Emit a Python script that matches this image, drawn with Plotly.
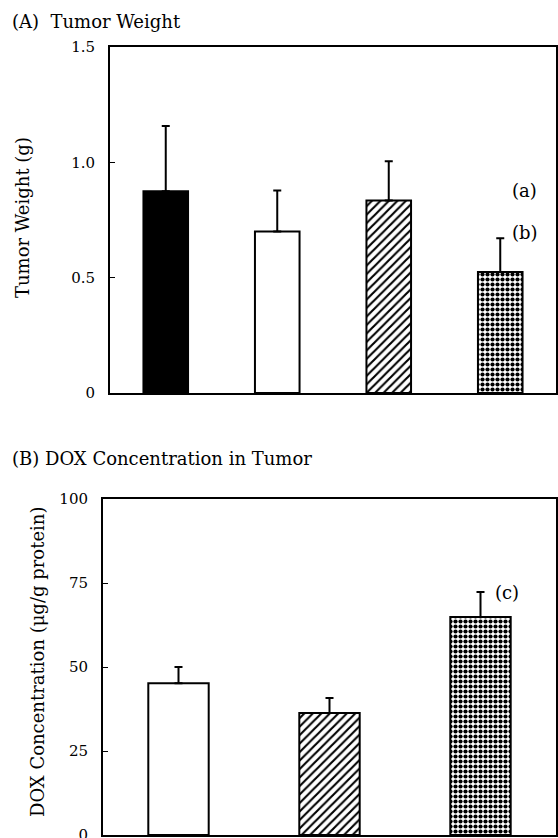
import plotly.graph_objects as go

W, H = 558, 838

# ---- data ----
groups_a = ["G1", "G2", "G3", "G4"]
tumor_weight = [0.875, 0.70, 0.835, 0.525]
tumor_weight_err = [0.283, 0.178, 0.17, 0.146]

groups_b = ["G2", "G3", "G4"]
dox_conc = [45.2, 36.3, 64.9]
dox_conc_err = [4.8, 4.5, 7.4]

ticks_a = [0, 0.5, 1.0, 1.5]
ticklabels_a = ["0", "0.5", "1.0", "1.5"]
ticks_b = [0, 25, 50, 75, 100]
ticklabels_b = ["0", "25", "50", "75", "100"]

FONT = "DejaVu Serif"

# fill style per group
STYLE = {
    "G1": dict(color="black"),
    "G2": dict(color="white"),
    "G3": dict(color="white", pattern=dict(shape="/", fgcolor="black", bgcolor="white",
                                           size=6, solidity=0.35, fillmode="replace")),
    "G4": dict(color="white", pattern=dict(shape=".", fgcolor="black", bgcolor="white",
                                           size=5, solidity=0.55, fillmode="replace")),
}


def px_x(p):
    return p / W


def px_y(p):
    return 1 - p / H


fig = go.Figure()

for groups, vals, errs, xa, ya in [
    (groups_a, tumor_weight, tumor_weight_err, "x", "y"),
    (groups_b, dox_conc, dox_conc_err, "x2", "y2"),
]:
    for g, v, e in zip(groups, vals, errs):
        st = STYLE[g]
        marker = dict(color=st["color"], line=dict(color="black", width=2))
        if "pattern" in st:
            marker["pattern"] = st["pattern"]
        fig.add_trace(go.Bar(
            x=[g], y=[v], xaxis=xa, yaxis=ya,
            marker=marker,
            error_y=dict(type="data", symmetric=False, array=[e], arrayminus=[0],
                         color="black", thickness=2, width=4),
            showlegend=False,
        ))

axis_common = dict(showline=True, linecolor="black", linewidth=2, mirror=True,
                   showgrid=False, zeroline=False, automargin=False)

fig.update_layout(
    width=W, height=H,
    margin=dict(l=0, r=0, t=0, b=0, pad=0, autoexpand=False),
    paper_bgcolor="white", plot_bgcolor="white",
    barmode="overlay",
    bargap=0.6,
    font=dict(family=FONT, color="black", size=15),
    xaxis=dict(domain=[px_x(110), px_x(556)], anchor="y", showticklabels=False,
               ticks="", categoryorder="array", categoryarray=groups_a, **axis_common),
    yaxis=dict(domain=[px_y(393), px_y(47)], anchor="x", range=[0, 1.5],
               tickvals=ticks_a, ticktext=ticklabels_a, ticks="inside",
               ticklen=5, tickwidth=1, tickcolor="black", ticklabelstandoff=10,
               ticklabeloverflow="allow",
               tickfont=dict(size=15, family=FONT), **axis_common),
    xaxis2=dict(domain=[px_x(103), px_x(556)], anchor="y2", showticklabels=False,
                ticks="", categoryorder="array", categoryarray=groups_b, **axis_common),
    yaxis2=dict(domain=[px_y(835), px_y(499)], anchor="x2", range=[0, 100],
                tickvals=ticks_b, ticktext=ticklabels_b, ticks="inside",
                ticklen=5, tickwidth=1, tickcolor="black", ticklabelstandoff=10,
                ticklabeloverflow="allow",
                tickfont=dict(size=15, family=FONT), **axis_common),
)

ann = [
    dict(text="(A)\u00a0\u00a0Tumor Weight", x=px_x(10), y=px_y(22),
         xref="paper", yref="paper", xanchor="left", yanchor="middle",
         showarrow=False, font=dict(size=18)),
    dict(text="(B) DOX Concentration in Tumor", x=px_x(10), y=px_y(458),
         xref="paper", yref="paper", xanchor="left", yanchor="middle",
         showarrow=False, font=dict(size=18)),
    dict(text="Tumor Weight (g)", x=px_x(23), y=px_y(218), textangle=-90,
         xref="paper", yref="paper", xanchor="center", yanchor="middle",
         showarrow=False, font=dict(size=18)),
    dict(text="DOX Concentration (μg/g protein)", x=px_x(37), y=px_y(662),
         textangle=-90, xref="paper", yref="paper", xanchor="center",
         yanchor="middle", showarrow=False, font=dict(size=18)),
    dict(text="(a)", x=0.93, y=0.878, xref="x domain", yref="y",
         xanchor="center", yanchor="middle", showarrow=False, font=dict(size=18)),
    dict(text="(b)", x=0.93, y=0.696, xref="x domain", yref="y",
         xanchor="center", yanchor="middle", showarrow=False, font=dict(size=18)),
    dict(text="(c)", x=0.892, y=72.3, xref="x2 domain", yref="y2",
         xanchor="center", yanchor="middle", showarrow=False, font=dict(size=18)),
]
fig.update_layout(annotations=ann)

POST = (
    "var s=document.createElement('style');"
    "s.textContent='html,body{margin:0 !important;padding:0 !important;overflow:hidden !important;}';"
    "document.head.appendChild(s);"
)

fig.write_html("out.html", config={"displayModeBar": False, "responsive": False},
               post_script=POST)
